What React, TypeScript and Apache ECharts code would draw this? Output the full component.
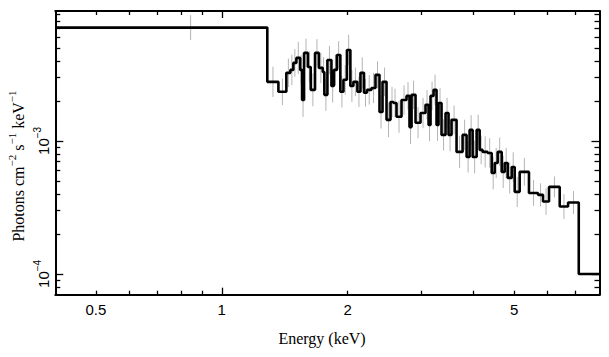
import React, { useEffect, useRef } from "react";
import * as echarts from "echarts";

// Bin edges in keV (78 bins)
const binEdges = [
  0.4, 1.285, 1.366, 1.427, 1.459, 1.483, 1.508, 1.54, 1.556, 1.573, 1.607, 1.632, 1.671, 1.707, 1.744,
  1.759, 1.789, 1.829, 1.854, 1.885, 1.921, 1.954, 1.992, 2.03, 2.064, 2.11, 2.146, 2.188, 2.224, 2.28,
  2.331, 2.383, 2.423, 2.477, 2.532, 2.574, 2.617, 2.69, 2.765, 2.811, 2.843, 2.906, 2.987, 3.07, 3.122,
  3.156, 3.209, 3.262, 3.298, 3.353, 3.428, 3.485, 3.543, 3.642, 3.765, 3.849, 3.913, 3.979, 4.068, 4.136,
  4.205, 4.322, 4.419, 4.493, 4.567, 4.669, 4.747, 4.826, 4.934, 5.016, 5.155, 5.426, 5.703, 5.862, 6.059,
  6.427, 6.729, 7.137, 8.0,
];

// Photons cm^-2 s^-1 keV^-1 per bin
const fluxValues = [
  7.11e-3, 2.78e-3, 2.34e-3, 3.25e-3, 3.42e-3, 3.86e-3, 4.21e-3, 3.42e-3, 2.03e-3, 4.59e-3,
  3.6e-3, 2.42e-3, 4.59e-3, 3.54e-3, 3.3e-3, 2.22e-3, 4.06e-3, 2.59e-3, 3.42e-3, 4.43e-3,
  2.34e-3, 2.88e-3, 4.83e-3, 2.59e-3, 2.78e-3, 2.34e-3, 3.25e-3, 2.3e-3, 2.42e-3, 2.5e-3,
  3.14e-3, 1.65e-3, 2.78e-3, 1.44e-3, 1.96e-3, 1.93e-3, 1.52e-3, 2.03e-3, 2.18e-3, 1.27e-3,
  2.22e-3, 1.37e-3, 1.62e-3, 1.87e-3, 1.32e-3, 2.18e-3, 2.42e-3, 1.32e-3, 1.93e-3, 1.11e-3,
  1.62e-3, 1.11e-3, 1.44e-3, 8.27e-4, 1.11e-3, 7.58e-4, 1.21e-3, 7.58e-4, 1.21e-3, 8.56e-4,
  8.27e-4, 8.12e-4, 5.74e-4, 6.83e-4, 8.27e-4, 5.85e-4, 6.83e-4, 5.27e-4, 6.37e-4, 4.14e-4,
  5.85e-4, 4.06e-4, 3.93e-4, 3.5e-4, 4.51e-4, 3.21e-4, 3.44e-4, 1.0e-4,
];

// Multiplicative 1-sigma error factor per bin (0 = no error bar drawn)
const errFactors = [
  1.24, 1.3, 1.26, 1.28, 1.3, 1.27, 1.32, 1.29, 1.34, 1.28,
  1.31, 1.33, 1.27, 1.3, 1.29, 1.32, 1.28, 1.33, 1.3, 1.27,
  1.31, 1.29, 1.3, 1.32, 1.28, 1.3, 1.31, 1.27, 1.29, 1.3,
  1.26, 1.33, 1.28, 1.35, 1.3, 1.28, 1.32, 1.29, 1.27, 1.34,
  1.28, 1.31, 1.3, 1.29, 1.33, 1.28, 1.3, 1.32, 1.29, 1.31,
  1.3, 1.33, 1.28, 1.32, 1.3, 1.31, 1.29, 1.33, 1.3, 1.28,
  1.31, 1.29, 1.33, 1.3, 1.28, 1.32, 1.3, 1.31, 1.29, 1.3,
  1.27, 1.25, 1.22, 1.26, 1.2, 1.24, 1.22, 0,
];

const xTickLabels = [0.5, 1, 2, 5];
const xMajorTicks = [1];
const xMinorTicks = [0.5, 0.6, 0.7, 0.8, 0.9, 2, 3, 4, 5, 6, 7];
const yLabelTicks = [1e-4, 1e-3];
const yMinorTicks = [
  8e-5, 9e-5, 2e-4, 3e-4, 4e-4, 5e-4, 6e-4, 7e-4, 8e-4, 9e-4,
  2e-3, 3e-3, 4e-3, 5e-3, 6e-3, 7e-3, 8e-3, 9e-3,
];
const xRange = [0.4, 8.0];
const yRange = [6.98e-5, 9.48e-3];

const L = Math.log10;
const SANS = "Liberation Sans, Arial, sans-serif";
const SERIF = "Liberation Serif, Times New Roman, serif";

export default function App() {
  const ref = useRef<HTMLDivElement>(null);

  useEffect(() => {
    const chart = echarts.init(ref.current!, null, { renderer: "svg" });
    const xMin = L(xRange[0]);
    const xMax = L(xRange[1]);
    const yMin = L(yRange[0]);
    const yMax = L(yRange[1]);

    const stepData: number[][] = fluxValues.map((v, i) => [L(binEdges[i]), L(v)]);
    stepData.push([L(binEdges[binEdges.length - 1]), L(fluxValues[fluxValues.length - 1])]);

    const errData: number[][] = [];
    fluxValues.forEach((v, i) => {
      const f = errFactors[i];
      if (!f) return;
      const c = (binEdges[i] + binEdges[i + 1]) / 2;
      errData.push([L(c), L(v / f), L(v * f)]);
    });

    const lineStyle = { color: "#000", width: 2 };
    const tickStyle = { color: "#000", width: 1.3 };

    const mkX = (position: string, ticks: number[], len: number, labels: boolean, line: boolean) => ({
      type: "value",
      position,
      gridIndex: 0,
      min: xMin,
      max: xMax,
      axisLine: { show: line, onZero: false, lineStyle },
      axisTick: { show: true, inside: true, length: len, customValues: ticks.map(L), lineStyle: tickStyle },
      axisLabel: labels
        ? {
            show: true,
            customValues: xTickLabels.map(L),
            margin: 7,
            color: "#000",
            fontFamily: SANS,
            fontSize: 15,
            formatter: (v: number) => {
              const e = Math.pow(10, v);
              return e < 1 ? e.toFixed(1) : String(Math.round(e));
            },
          }
        : { show: false },
      splitLine: { show: false },
    });

    const mkY = (position: string, ticks: number[], len: number, labels: boolean, line: boolean) => ({
      type: "value",
      position,
      gridIndex: 0,
      min: yMin,
      max: yMax,
      axisLine: { show: line, onZero: false, lineStyle },
      axisTick: { show: true, inside: true, length: len, customValues: ticks.map(L), lineStyle: tickStyle },
      axisLabel: labels
        ? {
            show: true,
            customValues: yLabelTicks.map(L),
            rotate: 90,
            margin: 4,
            color: "#000",
            formatter: (v: number) => `{b|10}{s|\u2212${Math.round(-v)}}`,
            rich: {
              b: { fontFamily: SANS, fontSize: 15, lineHeight: 19, verticalAlign: "bottom", color: "#000" },
              s: { fontFamily: SANS, fontSize: 10, lineHeight: 10, verticalAlign: "top", color: "#000" },
            },
          }
        : { show: false },
      splitLine: { show: false },
    });

    chart.setOption({
      animation: false,
      backgroundColor: "#fff",
      grid: { left: 55.3, right: 9.5, top: 11, bottom: 62.3, containLabel: false, outerBoundsMode: "none" },
      xAxis: [
        mkX("bottom", xMajorTicks, 7, true, true),
        mkX("bottom", xMinorTicks, 4, false, false),
        mkX("top", xMajorTicks, 7, false, true),
        mkX("top", xMinorTicks, 4, false, false),
      ],
      yAxis: [
        mkY("left", yLabelTicks, 8, true, true),
        mkY("left", yMinorTicks, 5, false, false),
        mkY("right", yLabelTicks, 8, false, true),
        mkY("right", yMinorTicks, 5, false, false),
      ],
      graphic: [
        {
          type: "text",
          x: 322,
          y: 338,
          style: {
            text: "Energy (keV)",
            fontFamily: SERIF,
            fontSize: 16,
            fill: "#000",
            align: "center",
            verticalAlign: "middle",
          },
        },
        {
          type: "text",
          x: 16,
          y: 166,
          rotation: Math.PI / 2,
          style: {
            text: "{a|Photons cm}{s|\u22122}{a| s}{s|\u22121}{a| keV}{s|\u22121}",
            fill: "#000",
            align: "center",
            verticalAlign: "middle",
            rich: {
              a: { fontFamily: SERIF, fontSize: 16, lineHeight: 20, verticalAlign: "bottom", fill: "#000" },
              s: { fontFamily: SERIF, fontSize: 11, lineHeight: 11, verticalAlign: "top", fill: "#000" },
            },
          },
        },
      ],
      series: [
        {
          type: "custom",
          xAxisIndex: 0,
          yAxisIndex: 0,
          z: 1,
          data: errData,
          encode: { x: 0, y: [1, 2] },
          renderItem: (_params: any, api: any) => {
            const x = api.value(0);
            const p1 = api.coord([x, api.value(1)]);
            const p2 = api.coord([x, api.value(2)]);
            return {
              type: "line",
              shape: { x1: p1[0], y1: p1[1], x2: p2[0], y2: p2[1] },
              style: { stroke: "#b4b4b4", lineWidth: 1 },
            };
          },
        },
        {
          type: "line",
          xAxisIndex: 0,
          yAxisIndex: 0,
          z: 2,
          step: "end",
          showSymbol: false,
          symbol: "none",
          data: stepData,
          lineStyle: { color: "#000", width: 2.6 },
        },
      ],
    });

    return () => chart.dispose();
  }, []);

  return <div ref={ref} style={{ position: "fixed", left: 0, top: 0, width: 609, height: 357 }} />;
}
